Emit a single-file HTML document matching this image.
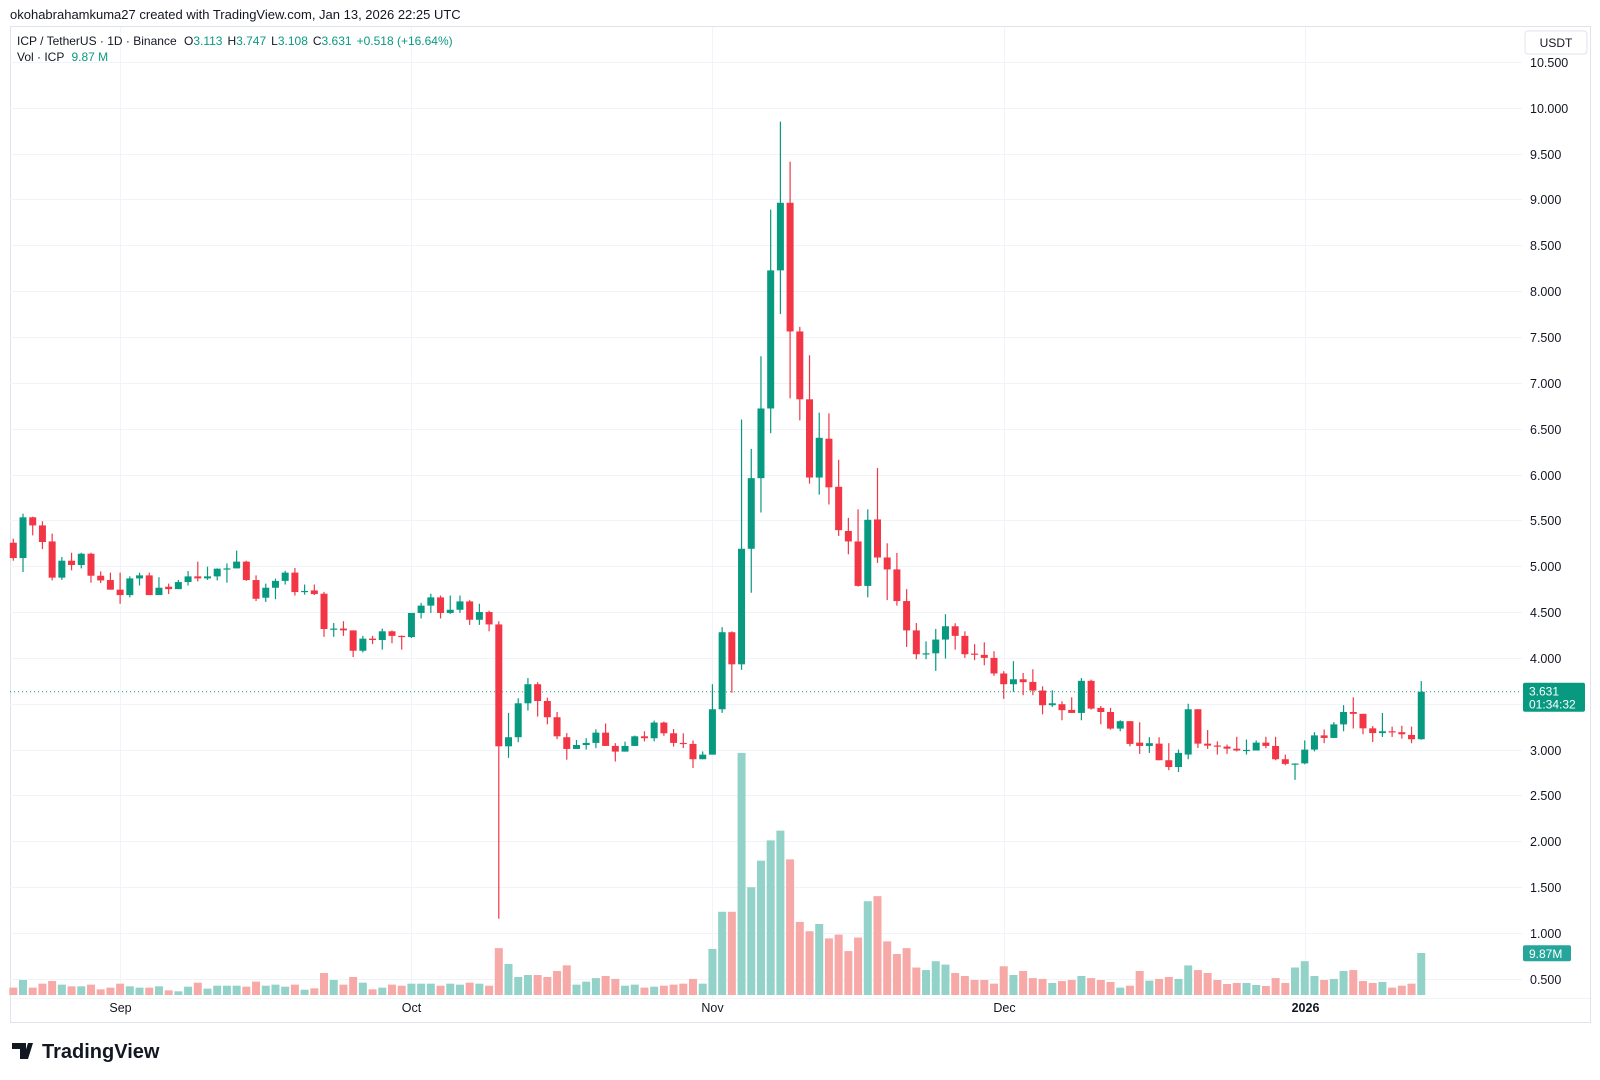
<!DOCTYPE html>
<html><head><meta charset="utf-8"><style>
html,body{margin:0;padding:0;background:#fff;width:1600px;height:1080px;overflow:hidden;font-family:"Liberation Sans",sans-serif;}
svg{position:absolute;left:0;top:0}
</style></head><body>
<svg id="chart" width="1600" height="1080" viewBox="0 0 1600 1080" xmlns="http://www.w3.org/2000/svg">
<text x="10" y="19" font-size="13" fill="#131722">okohabrahamkuma27 created with TradingView.com, Jan 13, 2026 22:25 UTC</text>
<rect x="10.5" y="26.5" width="1580" height="996" fill="none" stroke="#e0e3eb"/>
<g id="grid"></g>
<g id="vol"></g>
<g id="candles"></g>
<g id="axis"></g>
<g id="taxis"></g>
<text x="17" y="45" font-size="12" fill="#131722">ICP / TetherUS · 1D · Binance <tspan dx="4">O</tspan><tspan fill="#089981">3.113</tspan><tspan dx="5">H</tspan><tspan fill="#089981">3.747</tspan><tspan dx="5">L</tspan><tspan fill="#089981">3.108</tspan><tspan dx="5">C</tspan><tspan fill="#089981">3.631</tspan><tspan dx="5" fill="#089981">+0.518 (+16.64%)</tspan></text>
<text x="17" y="61" font-size="12" fill="#131722">Vol · ICP <tspan dx="4" fill="#089981">9.87 M</tspan></text>
<rect x="1525" y="31" width="62" height="23" rx="3" fill="#fff" stroke="#e0e3eb"/>
<text x="1556" y="47" font-size="12" fill="#131722" text-anchor="middle">USDT</text>
<g>
<path d="M12 1043h14v16h-6v-10h-8z M28 1043h5l-5 16h-5z" fill="#131722"/>
<circle cx="30" cy="1046" r="0" fill="#131722"/>
<text x="42" y="1058" font-size="20" font-weight="bold" fill="#131722">TradingView</text>
</g>
</svg>
<script>
const opens=[5.256,5.089,5.533,5.445,5.27,4.875,5.06,5.013,5.136,4.896,4.849,4.744,4.685,4.867,4.9,4.685,4.776,4.75,4.827,4.889,4.867,4.889,4.97,4.976,5.05,4.849,4.656,4.765,4.84,4.93,4.72,4.736,4.7,4.315,4.32,4.3,4.078,4.21,4.195,4.29,4.24,4.227,4.49,4.57,4.66,4.49,4.525,4.616,4.416,4.5,4.365,3.036,3.135,3.505,3.713,3.53,3.353,3.135,3.007,3.05,3.073,3.185,3.04,2.978,3.04,3.145,3.124,3.295,3.178,3.073,3.062,2.895,2.945,3.44,4.28,3.93,5.19,5.96,6.72,8.226,8.963,7.56,6.82,5.967,6.39,5.866,5.384,5.27,4.785,5.51,5.095,4.965,4.62,4.30,4.04,4.05,4.2,4.345,4.24,4.047,4.033,4.0,3.83,3.713,3.767,3.738,3.644,3.484,3.495,3.433,3.4,3.75,3.455,3.41,3.229,3.31,3.076,3.04,3.065,2.884,2.81,2.946,3.44,3.065,3.045,3.033,3.01,2.99,2.99,3.076,3.04,2.895,2.845,2.85,3.0,3.155,3.127,3.275,3.41,3.39,3.232,3.18,3.2,3.19,3.16,3.113];
const highs=[5.30,5.573,5.54,5.49,5.355,5.10,5.147,5.147,5.147,4.944,4.93,4.93,4.89,4.93,4.93,4.88,4.81,4.85,4.947,5.05,4.995,4.976,5.03,5.17,5.06,4.9,4.81,4.865,4.95,4.98,4.8,4.8,4.72,4.38,4.4,4.3,4.24,4.24,4.32,4.3,4.245,4.49,4.6,4.7,4.68,4.68,4.68,4.63,4.59,4.515,4.4,3.4,3.56,3.78,3.735,3.567,3.41,3.18,3.105,3.124,3.222,3.284,3.07,3.087,3.153,3.2,3.316,3.305,3.225,3.178,3.1,2.98,3.713,4.335,4.29,6.6,6.28,7.29,8.888,9.848,9.41,7.61,7.3,6.675,6.667,6.16,5.527,5.62,5.62,6.07,5.25,5.145,4.75,4.38,4.18,4.316,4.476,4.378,4.29,4.15,4.17,4.073,3.855,3.964,3.836,3.876,3.69,3.647,3.527,3.57,3.78,3.763,3.476,3.455,3.32,3.31,3.298,3.135,3.135,3.07,3.0,3.5,3.44,3.213,3.09,3.055,3.14,3.11,3.1,3.14,3.14,2.946,2.85,3.1,3.19,3.22,3.3,3.485,3.57,3.39,3.257,3.4,3.25,3.26,3.25,3.747];
const lows=[5.06,4.936,5.336,5.187,4.845,4.85,4.955,4.976,4.82,4.816,4.744,4.59,4.66,4.79,4.685,4.685,4.696,4.75,4.79,4.834,4.85,4.845,4.82,4.976,4.84,4.62,4.61,4.64,4.8,4.68,4.69,4.685,4.23,4.23,4.24,4.01,4.06,4.15,4.09,4.16,4.09,4.216,4.43,4.49,4.43,4.48,4.49,4.36,4.36,4.29,1.156,2.91,3.08,3.425,3.36,3.276,3.113,2.89,3.007,3.0,3.015,3.04,2.87,2.978,3.04,3.09,3.09,3.15,3.033,3.018,2.8,2.895,2.945,3.40,3.62,3.87,4.71,5.585,6.45,7.75,6.83,6.59,5.9,5.78,5.673,5.33,5.13,4.777,4.66,5.036,4.63,4.57,4.12,3.985,3.985,3.858,3.993,4.09,4.0,3.975,3.92,3.804,3.553,3.63,3.593,3.593,3.385,3.465,3.32,3.4,3.32,3.436,3.276,3.218,3.2,3.036,2.953,2.964,2.884,2.775,2.756,2.895,3.018,3.007,2.946,2.953,2.98,2.946,2.99,3.014,2.884,2.83,2.67,2.84,2.98,3.07,3.127,3.2,3.23,3.167,3.083,3.138,3.138,3.12,3.07,3.108];
const closes=[5.089,5.533,5.445,5.264,4.875,5.06,5.013,5.136,4.896,4.845,4.744,4.685,4.867,4.9,4.685,4.765,4.75,4.827,4.889,4.867,4.889,4.973,4.976,5.05,4.849,4.645,4.765,4.84,4.93,4.718,4.73,4.696,4.315,4.32,4.3,4.078,4.21,4.195,4.29,4.24,4.227,4.49,4.57,4.66,4.49,4.525,4.616,4.416,4.5,4.365,3.036,3.135,3.505,3.713,3.53,3.353,3.145,3.007,3.05,3.073,3.185,3.04,2.978,3.04,3.145,3.124,3.295,3.178,3.073,3.062,2.895,2.945,3.44,4.28,3.93,5.19,5.96,6.72,8.226,8.963,7.56,6.82,5.967,6.40,5.86,5.393,5.27,4.785,5.506,5.095,4.965,4.62,4.30,4.04,4.05,4.2,4.345,4.24,4.04,4.04,4.0,3.83,3.713,3.767,3.735,3.644,3.484,3.505,3.43,3.4,3.75,3.447,3.41,3.229,3.31,3.062,3.04,3.07,2.884,2.81,2.964,3.44,3.065,3.043,3.04,3.01,2.99,2.997,3.076,3.04,2.895,2.844,2.848,3.0,3.155,3.127,3.275,3.41,3.39,3.232,3.18,3.2,3.196,3.167,3.113,3.631];
const volumes=[1.74,3.55,1.74,2.68,3.31,2.45,2.05,2.05,2.45,1.34,1.74,2.68,2.05,1.74,1.74,2.05,1.1,0.87,1.97,2.92,1.5,2.2,2.2,2.2,1.97,3.16,2.2,2.45,1.97,2.45,1.26,1.58,5.2,3.55,2.45,4.26,2.92,1.34,1.74,2.45,2.2,2.68,2.68,2.68,2.2,2.68,2.45,2.92,2.68,2.2,11.1,7.34,4.26,4.73,4.73,4.26,5.68,7.02,2.45,3.16,4.0,4.5,3.8,2.2,2.45,1.74,1.97,2.2,2.45,2.68,3.8,2.68,10.9,19.7,19.7,57.3,25.5,31.8,36.6,38.9,32.1,17.3,15.1,16.8,13.4,14.3,10.4,13.6,22.2,23.4,12.7,9.7,11.1,6.5,5.9,8.0,7.2,5.2,4.5,3.55,3.55,2.68,6.8,4.73,5.68,4.0,3.8,2.84,3.3,3.55,4.5,4.0,3.55,3.08,1.74,2.2,5.68,3.4,3.8,4.26,3.8,7.0,5.9,5.2,3.55,2.6,2.84,2.84,2.37,2.13,4.0,2.84,6.5,8.0,4.5,3.55,3.8,5.68,5.9,3.3,2.84,3.08,1.74,2.2,2.68,9.94];
const priceTicks=[10.5,10,9.5,9,8.5,8,7.5,7,6.5,6,5.5,5,4.5,4,3.5,3,2.5,2,1.5,1,0.5];
const monthLabels=["Sep","Oct","Nov","Dec","2026"];
const monthIndex=[11,41,72,102,133];
const lastClose=3.631, lastVol=9.87;

const NS="http://www.w3.org/2000/svg";
const PLOT_L=10, PLOT_R=1522;
function xOf(i){return 13.3+i*9.71;}
function yOf(p){return 1024.7-91.7*p;}
function vy(v){return 995-v*4.225;}
function mk(tag,attrs,parent){const e=document.createElementNS(NS,tag);for(const k in attrs)e.setAttribute(k,attrs[k]);parent.appendChild(e);return e;}
const grid=document.getElementById('grid'),vol=document.getElementById('vol'),cg=document.getElementById('candles'),ax=document.getElementById('axis'),tx=document.getElementById('taxis');

priceTicks.forEach(p=>{
  const y=Math.round(yOf(p))+0.5;
  const l=mk('line',{x1:PLOT_L,x2:PLOT_R,y1:y,y2:y,stroke:'#f0f3fa','stroke-width':1},grid);
  
  
  const t=mk('text',{x:1530,y:y+4.5,'font-size':12.5,fill:'#131722'},ax);
  t.textContent=p.toFixed(3);
  
  
});
monthIndex.forEach((mi,k)=>{
  const x=Math.round(xOf(mi))+0.5;
  const l=mk('line',{x1:x,x2:x,y1:27,y2:998,stroke:'#f0f3fa','stroke-width':1},grid);
  
  
  const t=mk('text',{x:x,y:1012,'font-size':12.5,fill:'#131722','text-anchor':'middle','font-weight':monthLabels[k]==='2026'?'bold':'normal'},tx);
  t.textContent=monthLabels[k];
  
  
});
const sep=mk('line',{x1:PLOT_L,x2:1590,y1:998.5,y2:998.5,stroke:'#f0f3fa'},grid);



volumes.forEach((v,i)=>{
  const up=closes[i]>=opens[i];
  const r=mk('rect',{x:xOf(i)-4,y:vy(v),width:8,height:995-vy(v),fill:up?'#92d2c8':'#f7a9a7'},vol);
  
  
});
opens.forEach((o,i)=>{
  const c=closes[i],up=c>=o,col=up?'#089981':'#f23645',x=xOf(i);
  const g=mk('g',{},cg);
  
  
  mk('line',{x1:x,x2:x,y1:yOf(highs[i]),y2:yOf(lows[i]),stroke:col,'stroke-width':1.2},g);
  const top=yOf(Math.max(o,c)),bot=yOf(Math.min(o,c));
  mk('rect',{x:x-3.5,y:top,width:7,height:Math.max(1.2,bot-top),fill:col},g);
});
const cy=yOf(lastClose);
const dl=mk('line',{x1:PLOT_L,x2:PLOT_R,y1:cy,y2:cy,stroke:'#089981','stroke-width':1,'stroke-dasharray':'1 3'},grid);


const pb=mk('rect',{x:1523,y:cy-9,width:62,height:29,rx:2,fill:'#089981'},ax);


const pt=mk('text',{x:1529,y:cy+4,'font-size':12,fill:'#fff'},ax);pt.textContent=lastClose.toFixed(3);


const ct=mk('text',{x:1529,y:cy+17,'font-size':12,fill:'#fff'},ax);ct.textContent='01:34:32';


const vby=vy(lastVol);
const vb=mk('rect',{x:1523,y:vby-8,width:48,height:16,rx:2,fill:'#26a69a'},ax);


const vt=mk('text',{x:1529,y:vby+4.5,'font-size':12,fill:'#fff'},ax);vt.textContent=lastVol.toFixed(2)+'M';


</script>
</body></html>
